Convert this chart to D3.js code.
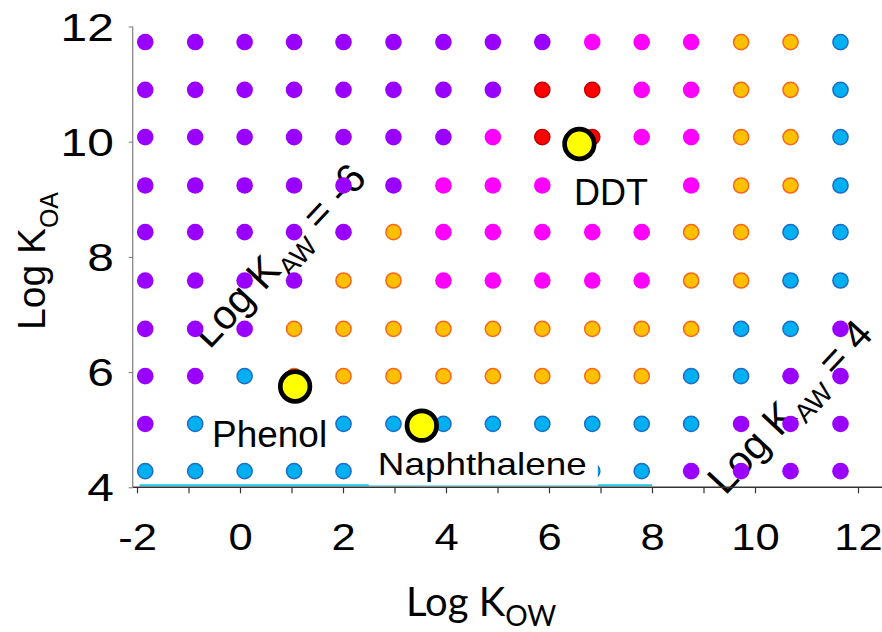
<!DOCTYPE html>
<html lang="en">
<head>
<meta charset="UTF-8">
<title>Log KOA vs Log KOW</title>
<script src="https://d3js.org/d3.v7.min.js"></script>
<style>
  html, body { margin: 0; padding: 0; background: #fff; }
  svg { display: block; }
  text { font-family: "Liberation Sans", Arial, sans-serif; fill: #000; }
</style>
</head>
<body>
<svg id="chart" width="882" height="632"></svg>
<script>
// grid of log KOW values (columns) and log KOA values (rows)
var kowValues = [-1.84, -0.87, 0.09, 1.05, 2.01, 2.98, 3.95, 4.91, 5.87, 6.84, 7.80, 8.76, 9.73, 10.69, 11.66];
var koaValues = [11.73, 10.90, 10.08, 9.24, 8.43, 7.59, 6.75, 5.93, 5.10, 4.28];

// phase class of each dot, one string per row (top to bottom)
// P = purple, M = magenta, R = red, O = orange, B = blue
var phaseRows = [
  "PPPPPPPPPMMMOOB",
  "PPPPPPPPRRMMOOB",
  "PPPPPPPMRRMMOOB",
  "PPPPPPMMMMMMOOB",
  "PPPPPOMMMMMOOBB",
  "PPPPOOMMMMMOOBB",
  "PPPOOOOOOOOOBBP",
  "PPBOOOOOOOOBBPP",
  "PBBBBBBBBBBBPPP",
  "BBBBBBBBBBBPPPP"
];

// highlighted chemicals
var chemNames = ["Phenol", "Naphthalene", "DDT"];
var chemKow = [1.07, 3.53, 6.59];
var chemKoa = [5.75, 5.07, 9.96];

// axis ticks
var xTickValues = [-2, -1, 0, 1, 2, 3, 4, 5, 6, 7, 8, 9, 10, 12];
var xTickLabels = [-2, 0, 2, 4, 6, 8, 10, 12];
var yTickValues = [4, 6, 8, 10, 12];

// ---------------------------------------------------------------

var colors = {
  P: { fill: "#9900ff", stroke: "none" },
  M: { fill: "#ff00ff", stroke: "none" },
  R: { fill: "#ff0000", stroke: "#c40000" },
  O: { fill: "#ffc000", stroke: "#f8661c" },
  B: { fill: "#00b0f0", stroke: "#1f6cc6" }
};

var svg = d3.select("#chart");

var xScale = d3.scaleLinear().domain([-2, 12]).range([137, 858]);
var yScale = d3.scaleLinear().domain([4, 12]).range([487.3, 26.5]);

var axisLeftX = 132.7;

// thin cyan line sitting on the x axis
svg.append("line")
  .attr("x1", xScale(-1.95)).attr("x2", xScale(8))
  .attr("y1", yScale(4) - 2).attr("y2", yScale(4) - 2)
  .attr("stroke", "#22c8e6").attr("stroke-width", 2);

// diagonal KAW labels (drawn under the dots)
function kawLabel(cx, cy, value) {
  var t = svg.append("text")
    .attr("transform", "translate(" + cx + "," + cy + ") rotate(-47)")
    .attr("text-anchor", "middle")
    .style("font-size", "41px");
  t.append("tspan").text("Log K");
  t.append("tspan").attr("dy", 10).style("font-size", "27px").text("AW");
  t.append("tspan").attr("dy", -10).text(" = " + value);
}
kawLabel(289, 265, "-6");
kawLabel(800, 416, "4");

// dots
var cells = [];
phaseRows.forEach(function(row, i) {
  row.split("").forEach(function(c, j) {
    cells.push({ kow: kowValues[j], koa: koaValues[i], phase: c });
  });
});

svg.append("g").selectAll("circle")
  .data(cells)
  .enter().append("circle")
  .attr("cx", d => xScale(d.kow))
  .attr("cy", d => yScale(d.koa))
  .attr("r", d => colors[d.phase].stroke == "none" ? 8.3 : 7.6)
  .attr("fill", d => colors[d.phase].fill)
  .attr("stroke", d => colors[d.phase].stroke)
  .attr("stroke-width", 1.5);

// chemical name labels with white boxes behind them
var labelLayout = {
  "Phenol":      { dx: -83,  dy: 60,   size: 37, len: 115,  box: [-87, 18, 122, 53] },
  "Naphthalene": { dx: -44,  dy: 49.8, size: 32, len: 209,  box: [-53, 14, 229, 45.8] },
  "DDT":         { dx: -5.3, dy: 60.7, size: 36, len: null, box: [-9.3, 21, 86, 49] }
};

chemNames.forEach(function(name, i) {
  var px = xScale(chemKow[i]), py = yScale(chemKoa[i]);
  var lay = labelLayout[name];
  svg.append("rect")
    .attr("x", px + lay.box[0]).attr("y", py + lay.box[1])
    .attr("width", lay.box[2]).attr("height", lay.box[3])
    .attr("fill", "#fff");
  var t = svg.append("text")
    .attr("x", px + lay.dx).attr("y", py + lay.dy)
    .style("font-size", lay.size + "px")
    .text(name);
  if (lay.len) t.attr("textLength", lay.len).attr("lengthAdjust", "spacingAndGlyphs");
});

// x axis
var xAxis = d3.axisBottom(xScale)
  .tickValues(xTickValues)
  .tickSize(6)
  .tickFormat(d => xTickLabels.indexOf(d) >= 0 ? d : "");

var gx = svg.append("g")
  .attr("transform", "translate(0," + yScale(4) + ")")
  .call(xAxis);
gx.select(".domain").remove();
gx.selectAll("line").attr("stroke", "#333").attr("stroke-width", 1.2);
gx.selectAll("text")
  .attr("y", 63).attr("dy", null)
  .attr("transform", "scale(1.16,1)")
  .style("font-size", "37.5px")
  .style("font-family", "'Liberation Sans', Arial, sans-serif")
  .attr("fill", "#000");

svg.append("line")
  .attr("x1", axisLeftX).attr("x2", 882)
  .attr("y1", yScale(4)).attr("y2", yScale(4))
  .attr("stroke", "#333").attr("stroke-width", 1.5);

// y axis
var yAxis = d3.axisLeft(yScale).tickValues(yTickValues).tickSize(4);
var gy = svg.append("g")
  .attr("transform", "translate(" + axisLeftX + ",0)")
  .call(yAxis);
gy.select(".domain").remove();
gy.selectAll("line").attr("stroke", "#777");
gy.selectAll("text")
  .attr("x", -15).attr("dy", "0.36em")
  .attr("transform", "scale(1.26,1)")
  .style("font-size", "38px")
  .style("font-family", "'Liberation Sans', Arial, sans-serif")
  .attr("fill", "#000");

svg.append("line")
  .attr("x1", axisLeftX).attr("x2", axisLeftX)
  .attr("y1", yScale(12)).attr("y2", yScale(4))
  .attr("stroke", "#888").attr("stroke-width", 1.3);

// axis titles
var xt = svg.append("text")
  .attr("x", 406).attr("y", 615.5)
  .style("font-family", "Lato, sans-serif")
  .style("font-size", "40px");
xt.append("tspan").text("Log K");
xt.append("tspan").attr("dy", 10).style("font-size", "28px").text("OW");

var yt = svg.append("text")
  .attr("transform", "translate(45,330) rotate(-90)")
  .style("font-size", "39px");
yt.append("tspan").text("Log K");
yt.append("tspan").attr("dy", 13).style("font-size", "25px").text("OA");

// highlighted chemicals on top
svg.append("g").selectAll("circle")
  .data(chemNames)
  .enter().append("circle")
  .attr("cx", (d, i) => xScale(chemKow[i]))
  .attr("cy", (d, i) => yScale(chemKoa[i]))
  .attr("r", 14.8)
  .attr("fill", "#ffff00")
  .attr("stroke", "#000")
  .attr("stroke-width", 4.7);
</script>
</body>
</html>
